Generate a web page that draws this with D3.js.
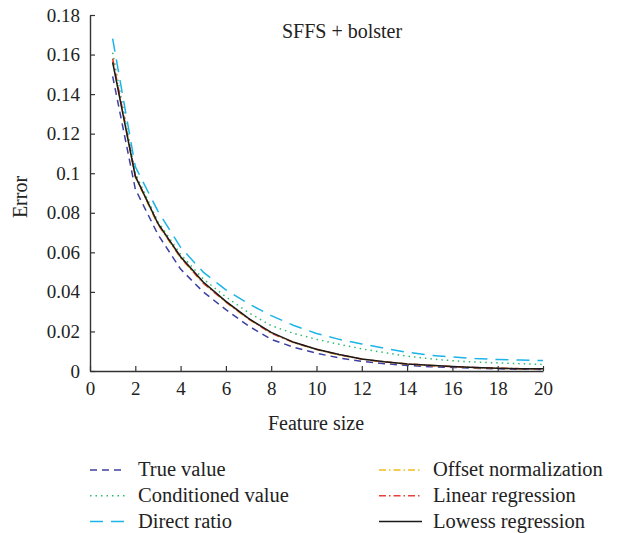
<!doctype html>
<html lang="en">
<head>
  <meta charset="utf-8">
  <script src="https://d3js.org/d3.v7.min.js"></script>
  <style>
    body { margin: 0; background: #fff; }
    text { font-family: "Liberation Serif", "Times New Roman", serif; fill: #222; }
  </style>
</head>
<body>
  <script>
    // feature sizes 1..20
    var featureSize = [1, 2, 3, 4, 5, 6, 7, 8, 9, 10, 11, 12, 13, 14, 15, 16, 17, 18, 19, 20];

    // error estimates
    var trueValue    = [0.149, 0.092, 0.069, 0.0515, 0.040, 0.031, 0.0228, 0.016, 0.012, 0.009, 0.0066, 0.0049, 0.0037, 0.0028, 0.0022, 0.0018, 0.0014, 0.0011, 0.0009, 0.0008];
    var conditioned  = [0.161, 0.100, 0.0755, 0.059, 0.0465, 0.0375, 0.0295, 0.0229, 0.019, 0.016, 0.0135, 0.0112, 0.0093, 0.0075, 0.0062, 0.0052, 0.0045, 0.0041, 0.0037, 0.0033];
    var directRatio  = [0.168, 0.1033, 0.0808, 0.0625, 0.050, 0.041, 0.034, 0.028, 0.023, 0.019, 0.016, 0.0137, 0.0115, 0.0095, 0.008, 0.0071, 0.0063, 0.0058, 0.0055, 0.0053];
    var offsetNorm   = [0.157, 0.098, 0.074, 0.0572, 0.0445, 0.0348, 0.0262, 0.0192, 0.0143, 0.0108, 0.0081, 0.006, 0.0046, 0.0035, 0.0028, 0.0022, 0.0017, 0.0014, 0.0012, 0.0011];
    var linearReg    = [0.158, 0.0988, 0.0742, 0.0574, 0.0444, 0.0349, 0.0264, 0.0191, 0.0144, 0.011, 0.0082, 0.006, 0.0046, 0.0036, 0.0028, 0.0022, 0.0018, 0.0014, 0.0012, 0.0011];
    var lowessReg    = [0.156, 0.0985, 0.0746, 0.0578, 0.045, 0.0352, 0.0266, 0.0195, 0.0145, 0.011, 0.0083, 0.0061, 0.0047, 0.0036, 0.0029, 0.0023, 0.0018, 0.0014, 0.0012, 0.0011];

    var seriesNames = ["True value", "Conditioned value", "Direct ratio",
                       "Offset normalization", "Linear regression", "Lowess regression"];
    var xTicks = [0, 2, 4, 6, 8, 10, 12, 14, 16, 18, 20];
    var yTicks = [0, 0.02, 0.04, 0.06, 0.08, 0.1, 0.12, 0.14, 0.16, 0.18];

    var styles = [
      { color: "#3e40a0", dash: "7,5" },
      { color: "#2fbb6e", dash: "1.5,4" },
      { color: "#1bb4e8", dash: "13,8" },
      { color: "#f2bd1c", dash: "7,3,1.5,3" },
      { color: "#e8403a", dash: "7,3,1.5,3" },
      { color: "#1a1a1a", dash: null }
    ];
    var allValues = [trueValue, conditioned, directRatio, offsetNorm, linearReg, lowessReg];

    var width = 624, height = 533;
    var svg = d3.select("body").append("svg")
        .attr("width", width)
        .attr("height", height);

    var x = d3.scaleLinear().domain([0, 20]).range([90, 543]);
    var y = d3.scaleLinear().domain([0, 0.18]).range([371, 15]);

    // axes, ticks pointing inward
    var xAxis = svg.append("g")
        .attr("transform", "translate(0," + y(0) + ")")
        .call(d3.axisBottom(x).tickValues(xTicks).tickSizeInner(-5).tickSizeOuter(0).tickPadding(11).tickFormat(d3.format("d")));
    var yAxis = svg.append("g")
        .attr("transform", "translate(" + x(0) + ",0)")
        .call(d3.axisLeft(y).tickValues(yTicks).tickSizeInner(-5).tickSizeOuter(0).tickPadding(10).tickFormat(function(d) { return d === 0 ? "0" : String(+d.toFixed(2)); }));

    [xAxis, yAxis].forEach(function(a) {
      a.selectAll("path").style("stroke", "#333").style("stroke-width", 1.4);
      a.selectAll("line").style("stroke", "#333").style("stroke-width", 1.2);
      a.selectAll("text").style("font-size", "19px").style("font-family", "Liberation Serif, serif").style("fill", "#222");
    });

    // curves (piecewise linear between feature sizes)
    var line = d3.line()
        .x(function(d, i) { return x(featureSize[i]); })
        .y(function(d) { return y(d); });

    svg.append("g").selectAll("path")
        .data(allValues)
      .enter().append("path")
        .attr("d", line)
        .style("fill", "none")
        .style("stroke", function(d, i) { return styles[i].color; })
        .style("stroke-width", 1.5)
        .style("stroke-dasharray", function(d, i) { return styles[i].dash; });

    // titles
    svg.append("text")
        .attr("x", 342).attr("y", 38)
        .attr("text-anchor", "middle")
        .style("font-size", "20px")
        .text("SFFS + bolster");

    svg.append("text")
        .attr("x", 316).attr("y", 430)
        .attr("text-anchor", "middle")
        .style("font-size", "20px")
        .text("Feature size");

    svg.append("text")
        .attr("transform", "translate(27,197) rotate(-90)")
        .attr("text-anchor", "middle")
        .style("font-size", "20px")
        .text("Error");

    // legend, two columns of three
    var legend = svg.append("g").selectAll("g")
        .data(seriesNames)
      .enter().append("g")
        .attr("transform", function(d, i) {
          var col = Math.floor(i / 3), row = i % 3;
          return "translate(" + (col === 0 ? 90 : 379) + "," + (476 + row * 25.8) + ")";
        });

    legend.append("line")
        .attr("x1", 0).attr("x2", function(d, i) { return i < 3 ? 35 : 43; })
        .attr("y1", -6).attr("y2", -6)
        .style("stroke", function(d, i) { return styles[i].color; })
        .style("stroke-width", 1.5)
        .style("stroke-dasharray", function(d, i) { return styles[i].dash; });

    legend.append("text")
        .attr("x", function(d, i) { return i < 3 ? 48 : 54; })
        .attr("y", 0)
        .style("font-size", "20.5px")
        .text(function(d) { return d; });
  </script>
</body>
</html>
